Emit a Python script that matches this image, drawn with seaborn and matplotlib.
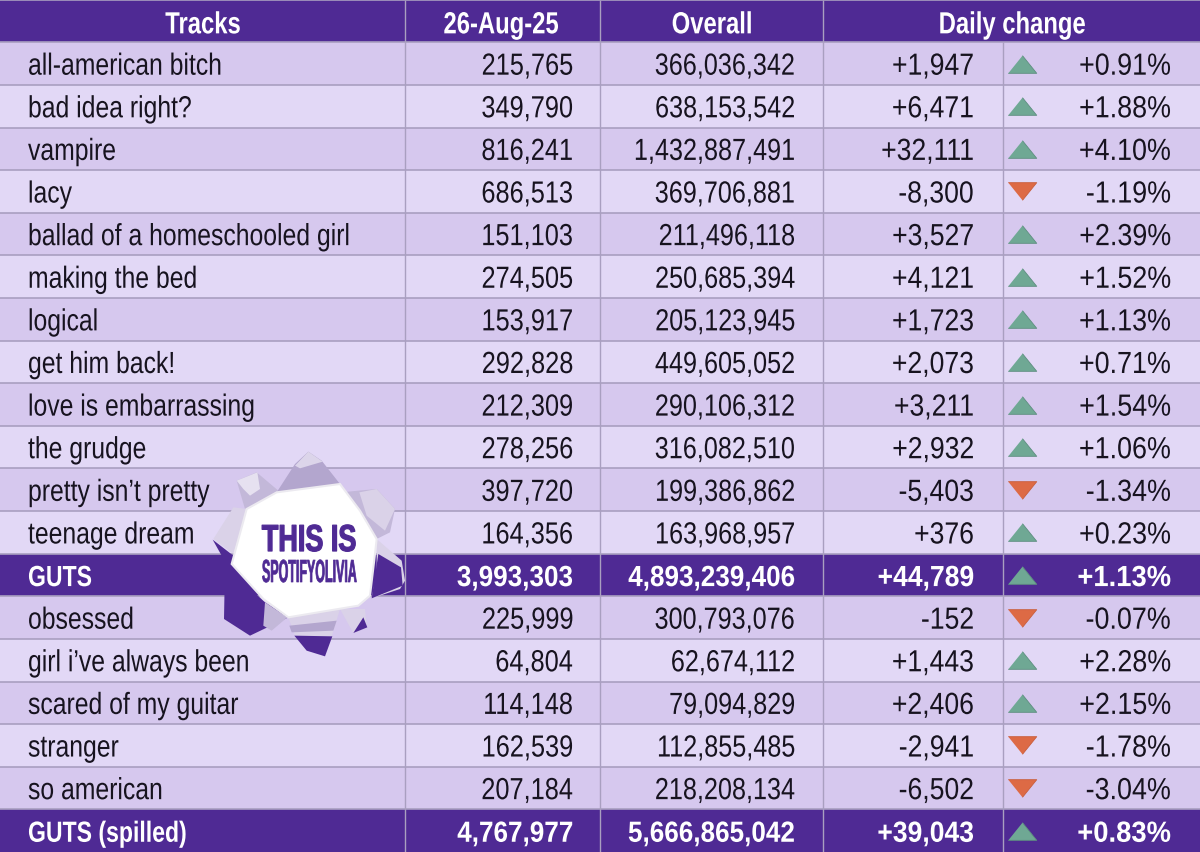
import numpy as np
import matplotlib
matplotlib.use("Agg")
import matplotlib.pyplot as plt
from matplotlib.colors import ListedColormap
from matplotlib.patches import Polygon
from matplotlib.patheffects import AbstractPathEffect
from matplotlib.transforms import Affine2D
import seaborn as sns

tracks = ["all-american bitch", "bad idea right?", "vampire", "lacy", "ballad of a homeschooled girl",
          "making the bed", "logical", "get him back!", "love is embarrassing", "the grudge",
          "pretty isn\u2019t pretty", "teenage dream", "GUTS", "obsessed", "girl i\u2019ve always been",
          "scared of my guitar", "stranger", "so american", "GUTS (spilled)"]
daily = [215765, 349790, 816241, 686513, 151103, 274505, 153917, 292828, 212309, 278256,
         397720, 164356, 3993303, 225999, 64804, 114148, 162539, 207184, 4767977]
overall = [366036342, 638153542, 1432887491, 369706881, 211496118, 250685394, 205123945, 449605052,
           290106312, 316082510, 199386862, 163968957, 4893239406, 300793076, 62674112, 79094829,
           112855485, 218208134, 5666865042]
change = [1947, 6471, 32111, -8300, 3527, 4121, 1723, 2073, 3211, 2932, -5403, 376, 44789, -152,
          1443, 2406, -2941, -6502, 39043]
pct = [0.91, 1.88, 4.10, -1.19, 2.39, 1.52, 1.13, 0.71, 1.54, 1.06, -1.34, 0.23, 1.13, -0.07,
       2.28, 2.15, -1.78, -3.04, 0.83]
headers = ["Tracks", "26-Aug-25", "Overall", "Daily change"]
total_rows = ["GUTS", "GUTS (spilled)"]

FONT = ["Liberation Sans", "DejaVu Sans"]
sns.set_theme(style="white")
plt.rcParams["font.family"] = FONT

PURPLE = "#4F2A94"
ODD, EVEN = "#D6C8EE", "#E2D8F6"
LINE = "#A99FC0"
INK = "#17131F"
GREEN, RED = "#6FA894", "#DD6A45"


class Squeeze(AbstractPathEffect):
    """Condense a text horizontally about a pixel anchor (no narrow face is installed)."""
    def __init__(self, anchor_px, sx, stroke=0.0):
        super().__init__()
        self.a, self.sx, self.stroke = anchor_px, sx, stroke

    def draw_path(self, renderer, gc, tpath, affine, rgbFace=None):
        t = affine + Affine2D().translate(-self.a, 0).scale(self.sx, 1).translate(self.a, 0)
        g = renderer.new_gc()
        g.copy_properties(gc)
        if self.stroke:
            g.set_linewidth(self.stroke)
            g.set_foreground(rgbFace)
        renderer.draw_path(g, tpath, t, rgbFace)
        g.restore()


fig = plt.figure(figsize=(12, 8.53), dpi=100)
ax = fig.add_axes([0, 0, 1, 1])

# row kinds: 0 odd, 1 even, 2 header / total
kinds = [2]
c = 0
for t in tracks:
    if t in total_rows:
        kinds.append(2)
        c = 0
    else:
        kinds.append(c % 2)
        c += 1
sns.heatmap(np.array(kinds)[:, None], ax=ax, cbar=False, cmap=ListedColormap([ODD, EVEN, PURPLE]),
            vmin=0, vmax=2, xticklabels=False, yticklabels=False)
ax.set_xlabel(""); ax.set_ylabel("")
n = len(kinds)
ax.set_ylim(n, -0.016)
ax.set_facecolor(LINE)
tr = ax.get_yaxis_transform()
W = 1200.0

# grid lines
ax.hlines(range(0, n), 0, 1, transform=tr, color=LINE, lw=1.2)
for x in (405, 600, 823):
    ax.vlines(x / W, 0, n, transform=tr, color=LINE, lw=1.0)
for i in range(1, n):
    ax.vlines(1003 / W, i, i + 1, transform=tr, color=LINE, lw=1.0)


def put(px, y, s, ha, sx, size=22, weight="normal", color=INK):
    t = ax.text(px / W, y, s, transform=tr, ha=ha, va="baseline", color=color,
                fontsize=size, fontweight=weight, zorder=4)
    t.set_path_effects([Squeeze(px, sx)])
    return t


for x, h in zip((203, 501, 712, 1012), headers):
    put(x, 0.79, h, "center", 0.78, weight="bold", color="white")

for i, t in enumerate(tracks):
    base = i + 1.76
    if t in total_rows:
        st = dict(size=21, weight="bold", color="white")
        fx = (0.79, 0.895, 0.895, 0.91, 0.94)
    else:
        st = dict(size=22)
        fx = (0.81, 0.83, 0.825, 0.87, 0.88)
    put(28, base, t, "left", fx[0], **st)
    put(573, base, f"{daily[i]:,}", "right", fx[1], **st)
    put(795, base, f"{overall[i]:,}", "right", fx[2], **st)
    put(974, base, ("+" if change[i] > 0 else "") + f"{change[i]:,}", "right", fx[3], **st)
    put(1171, base, f"{pct[i]:+.2f}%", "right", fx[4], **st)
    up = change[i] > 0
    tri = [(-1, -0.62), (1, -0.62), (0, 0.62)] if up else [(-1, 0.62), (1, 0.62), (0, -0.62)]
    ax.scatter([1022 / W], [i + 1.5], marker=tri, s=420, color=GREEN if up else RED,
               edgecolor="#5E8E80" if up else "#C85E3C", linewidth=0.6, transform=tr, zorder=3)

# ---- torn-paper sticker (drawn in pixel space) ----
deco = fig.add_axes([0, 0, 1, 1], facecolor="none")
deco.set_xlim(0, 1200); deco.set_ylim(853, 0); deco.axis("off")


def z(pts):
    return [(200 + a / 3, 440 + b / 3) for a, b in pts]


def poly(pts, c, zo=5, ec="none", lw=0):
    deco.add_patch(Polygon(z(pts), closed=True, facecolor=c, edgecolor=ec, lw=lw, zorder=zo))


PAPER, PAPER2, PAPER3 = "#C3B8D9", "#DAD2E8", "#B3A6CE"
# top flap
poly([(230, 160), (285, 75), (325, 38), (365, 65), (420, 135)], PAPER3)
poly([(285, 80), (325, 38), (368, 68), (300, 88)], "#DCD5EA")
# upper-left curl
poly([(135, 210), (110, 125), (170, 100), (235, 155), (170, 195)], PAPER)
poly([(110, 125), (172, 100), (180, 150), (150, 170), (130, 150)], "#E6E1F0")
# left flap
poly([(40, 300), (100, 205), (142, 210), (100, 345)], PAPER2)
poly([(38, 302), (100, 350), (92, 372), (65, 350)], PURPLE)
# right flap
poly([(425, 160), (475, 155), (530, 150), (585, 210), (570, 280), (530, 300)], PAPER)
poly([(478, 160), (530, 150), (585, 210), (555, 275), (500, 230)], PAPER2)
poly([(530, 300), (605, 365), (615, 425), (600, 450), (515, 478), (530, 400)], PAPER2)
poly([(535, 345), (603, 385), (608, 440), (515, 478)], PURPLE)
# lower-left purple
poly([(75, 380), (195, 490), (265, 535), (150, 590), (72, 540)], PURPLE)
poly([(195, 490), (262, 535), (215, 575), (190, 560)], PAPER)
# bottom
poly([(265, 535), (420, 510), (395, 592), (285, 590)], PAPER2)
poly([(268, 560), (410, 545), (400, 575), (275, 580)], PAPER3)
poly([(283, 590), (397, 592), (375, 652), (320, 635)], PURPLE)
poly([(420, 510), (495, 510), (500, 565), (460, 582)], PAPER2)
poly([(490, 535), (502, 565), (460, 582)], PURPLE)
# white hole
poly([(230, 160), (420, 135), (480, 215), (530, 300), (525, 345), (510, 470), (475, 500), (265, 535),
      (190, 480), (95, 375), (140, 210)], "white", zo=6, ec="#ECEAF0", lw=1.5)

for s, xpx, ypx, fs, sx, sk in (("THIS IS", 309, 552, 27, 0.72, 0.9), ("SPOTIFYOLIVIA", 309.5, 583, 23, 0.39, 0.5)):
    tx = deco.text(xpx, ypx, s, ha="center", va="baseline", color=PURPLE,
                   fontsize=fs, fontweight="bold", zorder=7)
    tx.set_path_effects([Squeeze(xpx, sx, sk)])

fig.savefig("out.png", dpi=100)
